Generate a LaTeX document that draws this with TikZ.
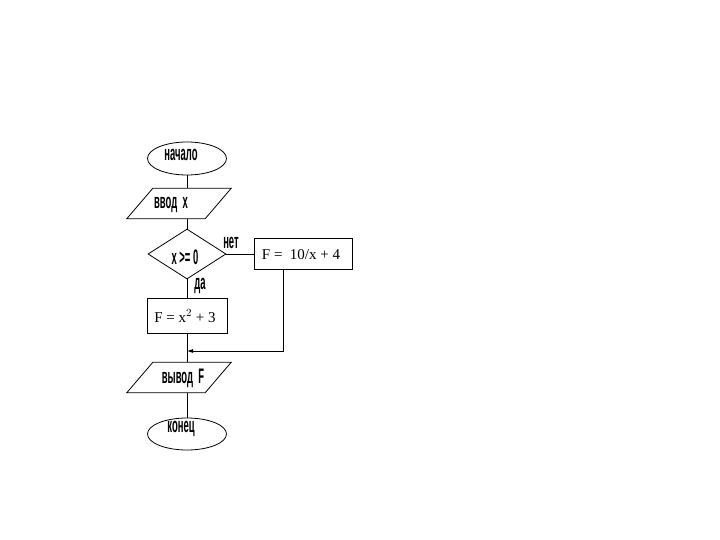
\documentclass[tikz,border=0pt]{standalone}
\usepackage{fontspec}
\setmainfont{Liberation Serif}
\newfontfamily\cyr[FakeStretch=0.45]{Liberation Sans}
\usetikzlibrary{shapes.geometric,arrows.meta}
\begin{document}
\begin{tikzpicture}[x=1pt,y=-1pt,
  line/.style={draw=black, line width=0.8pt},
  term/.style={ellipse, line, minimum width=79pt, minimum height=33pt, inner sep=0pt},
  iobox/.style={rectangle, draw=none, minimum width=104pt, minimum height=30pt, inner sep=0pt},
  dec/.style={diamond, line, minimum width=78pt, minimum height=50pt, inner sep=0pt},
  proc/.style={rectangle, line, inner sep=0pt},
  ctext/.style={font=\cyr\bfseries\fontsize{21}{21}\selectfont, inner sep=0pt},
  ftext/.style={font=\fontsize{15}{15}\selectfont, inner sep=0pt}
]
\useasboundingbox (0,0) rectangle (720,540);
\fill[white] (0,0) rectangle (720,540);

\node[term] (start) at (187,158.5) {};
\node[ctext] (tstart) at (181,155) {начало};

\node[iobox] (in) at (179,203.5) {};
\draw[line] ([xshift=26pt]in.north west) -- (in.north east) -- ([xshift=-26pt]in.south east) -- (in.south west) -- cycle;
\node[ctext] (tin) at (171,205) {ввод\ \ х};

\node[dec] (cond) at (187,254) {};
\node[ctext] (tcond) at (185,257) {x >= 0};
\node[ctext] (tno) at (231,243) {нет};
\node[ctext] (tyes) at (200,286) {да};

\node[proc, minimum width=80pt, minimum height=35pt] (b1) at (187,315.5) {};
\node[ftext] (tb1) at (185,316) {F = x$^{2}$ + 3};

\node[proc, minimum width=98pt, minimum height=31pt] (b2) at (303,254) {};
\node[ftext] (tb2) at (301,255) {F = \ 10/x + 4};

\node[iobox] (out) at (179,377.5) {};
\draw[line] ([xshift=26pt]out.north west) -- (out.north east) -- ([xshift=-26pt]out.south east) -- (out.south west) -- cycle;
\node[ctext] (tout) at (183,378) {вывод\ \ F};

\node[term, minimum height=32pt] (end) at (187,434) {};
\node[ctext] (tend) at (181,429) {конец};

\coordinate (merge) at (187,351);

\draw[line] (start.south) -- (start.south |- in.north);
\draw[line] (cond.north |- in.south) -- (cond.north);
\draw[line] (cond.south) -- (b1.north);
\draw[line] (b1.south) -- (b1.south |- out.north);
\draw[line] (cond.east) -- (b2.west);
\draw[line, -{Latex[length=6pt,width=4pt]}] ([xshift=-20pt]b2.south) |- (merge);
\draw[line] (end.north |- out.south) -- (end.north);
\end{tikzpicture}
\end{document}
